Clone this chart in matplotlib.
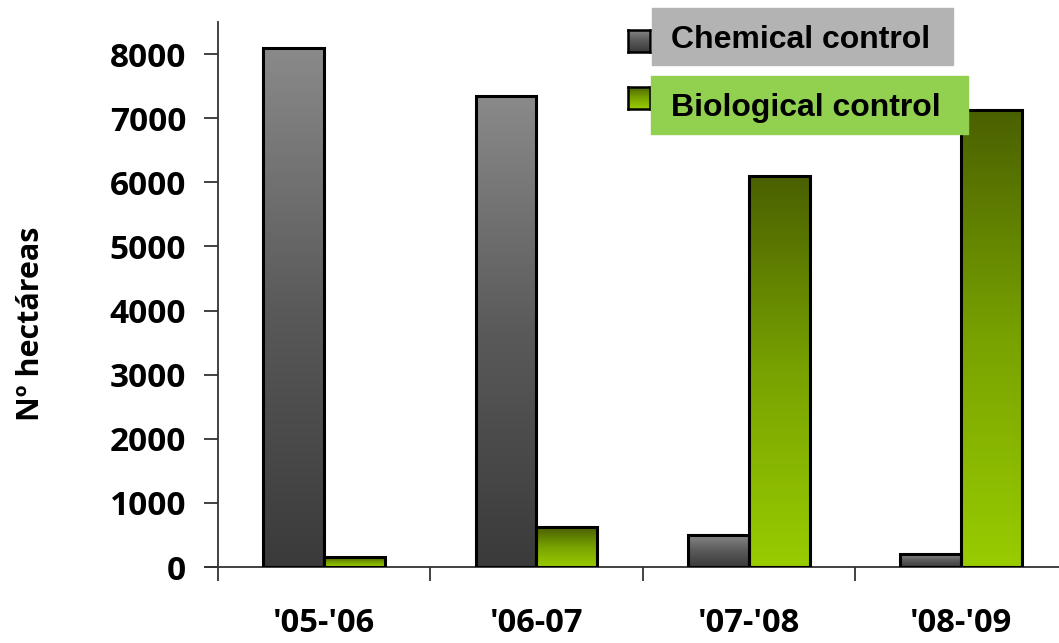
import matplotlib
matplotlib.use("Agg")
import matplotlib.pyplot as plt
import numpy as np
from matplotlib.colors import LinearSegmentedColormap
from matplotlib.patches import Rectangle

categories = ["'05-'06", "'06-07", "'07-'08", "'08-'09"]
chemical = [8100, 7350, 500, 200]
biological = [150, 620, 6100, 7130]
yticks = [0, 1000, 2000, 3000, 4000, 5000, 6000, 7000, 8000]
series_names = ["Chemical control", "Biological control"]

W, H = 1059, 643
fig = plt.figure(figsize=(W / 100, H / 100), dpi=100)
ax = fig.add_axes([218 / W, (H - 567) / H, (W - 218) / W, (567 - 22) / H])

gray_cmap = LinearSegmentedColormap.from_list("g", ["#3a3a3a", "#5a5a5a", "#8a8a8a"])
green_cmap = LinearSegmentedColormap.from_list("gr", ["#99cc00", "#78a200", "#4a6000"])

x = np.arange(len(categories))
bw = 0.287
b1 = ax.bar(x - bw / 2, chemical, bw, color="none", edgecolor="black", linewidth=2.2, zorder=3)
b2 = ax.bar(x + bw / 2, biological, bw, color="none", edgecolor="black", linewidth=2.2, zorder=3)

grad = np.linspace(0, 1, 256).reshape(-1, 1)
for bars, cmap in ((b1, gray_cmap), (b2, green_cmap)):
    for p in bars:
        x0, y0 = p.get_x(), p.get_y()
        w, h = p.get_width(), p.get_height()
        ax.imshow(grad, extent=[x0, x0 + w, y0, y0 + h], origin="lower",
                  aspect="auto", cmap=cmap, zorder=2)

for s in ("top", "right"):
    ax.spines[s].set_visible(False)
ax.spines["left"].set_color("#333333")
ax.spines["bottom"].set_color("#333333")
ax.spines["left"].set_linewidth(1.3)
ax.spines["bottom"].set_linewidth(1.3)

ax.set_yticks(yticks)
ax.set_yticklabels([str(v) for v in yticks], fontsize=24, fontweight="bold",
                   family="Open Sans")
ax.tick_params(axis="y", length=10, width=1.3, color="#333333", pad=13)

ax.set_xticks(np.arange(-0.5, 4, 1.0))
ax.set_xticklabels([])
ax.set_xticks(x, minor=True)
ax.set_xticklabels(categories, minor=True, fontsize=23.5, fontweight="bold", family="Open Sans")
ax.tick_params(axis="x", which="major", length=10, width=1.3, color="#333333")
ax.tick_params(axis="x", which="minor", length=0, pad=29)

ax.set_xlim(-0.5, -0.5 + (W - 218) / 212.3)
ax.set_ylim(0, 8500)
ax.spines["bottom"].set_bounds(-0.5 - 13 / 212.3, 5)

fig.text(31 / W, 1 - 324 / H, "Nº hectáreas", rotation=90, fontsize=22,
         fontweight="bold", family="Open Sans", ha="center", va="center")

# legend boxes
fig.patches.append(Rectangle((652 / W, 1 - 65 / H), (953 - 652) / W, (65 - 8) / H,
                             transform=fig.transFigure, color="#b3b3b3", zorder=5))
fig.patches.append(Rectangle((651 / W, 1 - 134 / H), (968 - 651) / W, (134 - 76) / H,
                             transform=fig.transFigure, color="#92d050", zorder=5))
fig.text(671 / W, 1 - 40 / H, series_names[0], fontsize=23, fontweight="bold",
         family="Liberation Sans", va="center", ha="left", zorder=6)
fig.text(671 / W, 1 - 108 / H, series_names[1], fontsize=23, fontweight="bold",
         family="Liberation Sans", va="center", ha="left", zorder=6)

for (cy, cmap) in ((41, gray_cmap), (98, green_cmap)):
    la = fig.add_axes([628 / W, 1 - (cy + 11) / H, 22 / W, 22 / H])
    la.imshow(grad, origin="lower", aspect="auto", cmap=cmap)
    la.set_xticks([])
    la.set_yticks([])
    for s in la.spines.values():
        s.set_linewidth(1.8)
        s.set_color("black")

fig.savefig("out.png", dpi=100)
